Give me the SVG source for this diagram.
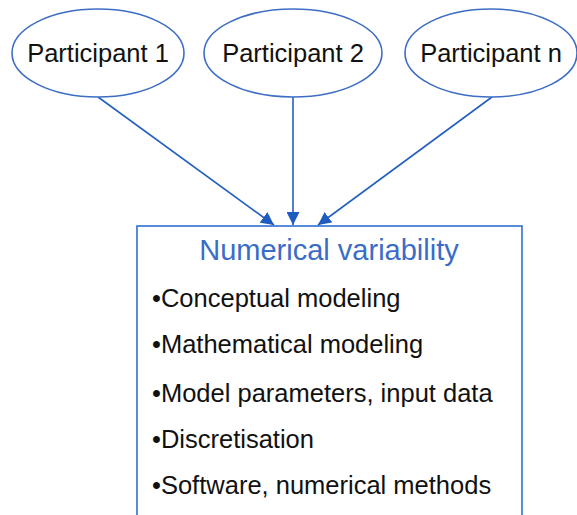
<svg xmlns="http://www.w3.org/2000/svg" width="577" height="515" viewBox="0 0 577 515">
<defs>
<style>
.ell{fill:#fff;stroke:#3d6ec4;stroke-width:1.6}
.lbl{font-family:"Liberation Sans",Arial,sans-serif;font-size:25.5px;fill:#111}
.con{stroke:#2360c0;stroke-width:1.6;fill:none}
.box{fill:#fff;stroke:#2f6fd0;stroke-width:1.6}
.title{font-family:"Liberation Sans",Arial,sans-serif;font-size:29px;fill:#3a6cc8}
</style>
<marker id="ah" viewBox="0 0 10 10" refX="10" refY="5" markerWidth="13" markerHeight="13" markerUnits="userSpaceOnUse" orient="auto">
<path d="M0,0 L10,5 L0,10 z" fill="#1f5cc0"/>
</marker>
</defs>
<rect width="577" height="515" fill="#fff"/>
<g id="connectors">
<line class="con" x1="98" y1="97" x2="274" y2="225" marker-end="url(#ah)"/>
<line class="con" x1="293" y1="97" x2="293" y2="225" marker-end="url(#ah)"/>
<line class="con" x1="492" y1="97" x2="318" y2="225" marker-end="url(#ah)"/>
</g>
<g id="p1">
<ellipse class="ell" cx="98" cy="53" rx="86" ry="44"/>
<text class="lbl" x="98" y="62" text-anchor="middle">Participant 1</text>
</g>
<g id="p2">
<ellipse class="ell" cx="293" cy="53" rx="89" ry="44"/>
<text class="lbl" x="293" y="62" text-anchor="middle">Participant 2</text>
</g>
<g id="pn">
<ellipse class="ell" cx="491" cy="53" rx="86" ry="44"/>
<text class="lbl" x="491" y="62" text-anchor="middle">Participant n</text>
</g>
<g id="numvar">
<rect class="box" x="137" y="226" width="385" height="300"/>
<text class="title" x="329" y="260" text-anchor="middle">Numerical variability</text>
<text class="lbl" x="152" y="307">•Conceptual modeling</text>
<text class="lbl" x="152" y="353">•Mathematical modeling</text>
<text class="lbl" x="152" y="402">•Model parameters, input data</text>
<text class="lbl" x="152" y="448">•Discretisation</text>
<text class="lbl" x="152" y="494">•Software, numerical methods</text>
</g>
</svg>
